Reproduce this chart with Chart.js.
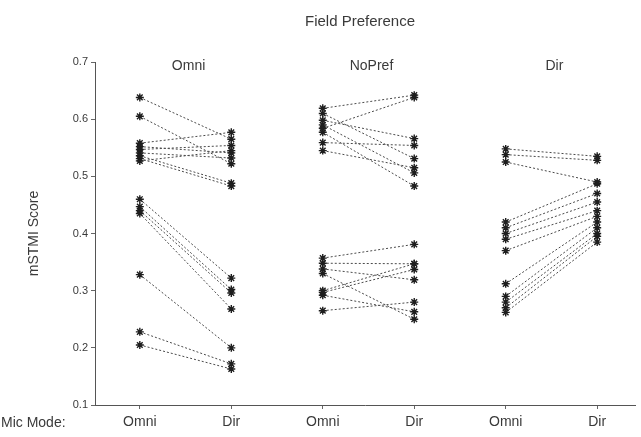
<!DOCTYPE html>
<html>
<head>
<meta charset="utf-8">
<script src="https://cdn.jsdelivr.net/npm/chart.js@4/dist/chart.umd.min.js"></script>
<style>
  html,body{margin:0;padding:0;background:#fff;}
  #wrap{width:641px;height:437px;position:relative;}
</style>
</head>
<body>
<div id="wrap"><canvas id="c"></canvas></div>
<script>
// field preference groups and mic mode tick labels
const groups = ["Omni", "NoPref", "Dir"];
const micModes = ["Omni", "Dir", "Omni", "Dir", "Omni", "Dir"];
const yTicks = [0.1, 0.2, 0.3, 0.4, 0.5, 0.6, 0.7];

// one entry per subject: score with Omni mic, score with Dir mic
const omniPrefOmni = [0.638, 0.605, 0.558, 0.552, 0.547, 0.541, 0.536, 0.531, 0.527, 0.46, 0.447, 0.44, 0.435, 0.328, 0.228, 0.205];
const omniPrefDir  = [0.565, 0.522, 0.577, 0.541, 0.554, 0.532, 0.488, 0.483, 0.545, 0.322, 0.302, 0.296, 0.268, 0.200, 0.172, 0.163];

const noPrefOmni = [0.619, 0.61, 0.598, 0.59, 0.584, 0.577, 0.559, 0.545, 0.357, 0.348, 0.338, 0.330, 0.300, 0.297, 0.292, 0.265];
const noPrefDir  = [0.642, 0.531, 0.566, 0.506, 0.638, 0.483, 0.554, 0.515, 0.381, 0.347, 0.319, 0.250, 0.347, 0.337, 0.263, 0.280];

const dirPrefOmni = [0.548, 0.538, 0.525, 0.42, 0.41, 0.40, 0.39, 0.37, 0.312, 0.29, 0.28, 0.27, 0.262];
const dirPrefDir  = [0.535, 0.528, 0.49, 0.487, 0.47, 0.455, 0.44, 0.43, 0.42, 0.41, 0.40, 0.395, 0.385];

(function(){
  const FONT = "'Liberation Sans', Arial, sans-serif";
  const INK = "#3a3a3a";
  const pairs = [[omniPrefOmni, omniPrefDir], [noPrefOmni, noPrefDir], [dirPrefOmni, dirPrefDir]];

  const datasets = [];
  pairs.forEach(function(p, gi){
    for(let i=0;i<p[0].length;i++){
      datasets.push({
        data: [{x: gi*2, y: p[0][i]}, {x: gi*2+1, y: p[1][i]}],
        borderColor: "#4a4a4a",
        borderWidth: 1,
        borderDash: [2, 2],
        pointStyle: "star",
        pointRadius: 4,
        pointBorderWidth: 1.4,
        pointBorderColor: "#1e1e1e",
        pointBackgroundColor: "#1e1e1e"
      });
    }
  });

  const labelsPlugin = {
    id: "labelsPlugin",
    afterDraw(chart){
      const ctx = chart.ctx, xs = chart.scales.x;
      ctx.save();
      ctx.fillStyle = INK;
      ctx.textAlign = "center";
      ctx.textBaseline = "middle";
      ctx.font = "15px " + FONT;
      ctx.fillText("Field Preference", 360, 22);
      ctx.font = "14px " + FONT;
      groups.forEach(function(g, gi){
        ctx.fillText(g, xs.getPixelForValue(gi*2 + 0.5) + 3, 66);
      });
      ctx.textAlign = "left";
      ctx.fillText("Mic Mode:", 1, 423);
      ctx.restore();
    }
  };

  new Chart(document.getElementById("c").getContext("2d"), {
    type: "line",
    data: { datasets: datasets },
    plugins: [labelsPlugin],
    options: {
      responsive: true,
      maintainAspectRatio: false,
      animation: false,
      layout: { padding: { top: 62, right: 0, bottom: 0, left: 0 } },
      plugins: { legend: { display: false }, tooltip: { enabled: false } },
      scales: {
        x: {
          type: "linear",
          min: -0.49,
          max: 5.42,
          afterBuildTicks(s){ s.ticks = micModes.map(function(_, i){ return {value: i}; }); },
          afterFit(s){ s.height = 32; },
          ticks: {
            color: INK,
            font: { family: FONT, size: 14 },
            padding: 5,
            callback: function(v){ return micModes[v]; }
          },
          grid: { drawOnChartArea: false, tickLength: 4, color: "#666" },
          border: { dash: [2, 2], color: "#555", width: 1 }
        },
        y: {
          min: 0.1,
          max: 0.7,
          afterBuildTicks(s){ s.ticks = yTicks.map(function(v){ return {value: v}; }); },
          afterFit(s){ s.width = 95; },
          ticks: {
            color: INK,
            font: { family: FONT, size: 11 },
            padding: 3,
            callback: function(v){ return v.toFixed(1); }
          },
          grid: { drawOnChartArea: false, tickLength: 4, color: "#666" },
          border: { dash: [2, 2], color: "#555", width: 1 },
          title: {
            display: true,
            text: "mSTMI Score",
            color: INK,
            font: { family: FONT, size: 14 },
            padding: { top: 26, bottom: 0 }
          }
        }
      }
    }
  });
})();
</script>
</body>
</html>
